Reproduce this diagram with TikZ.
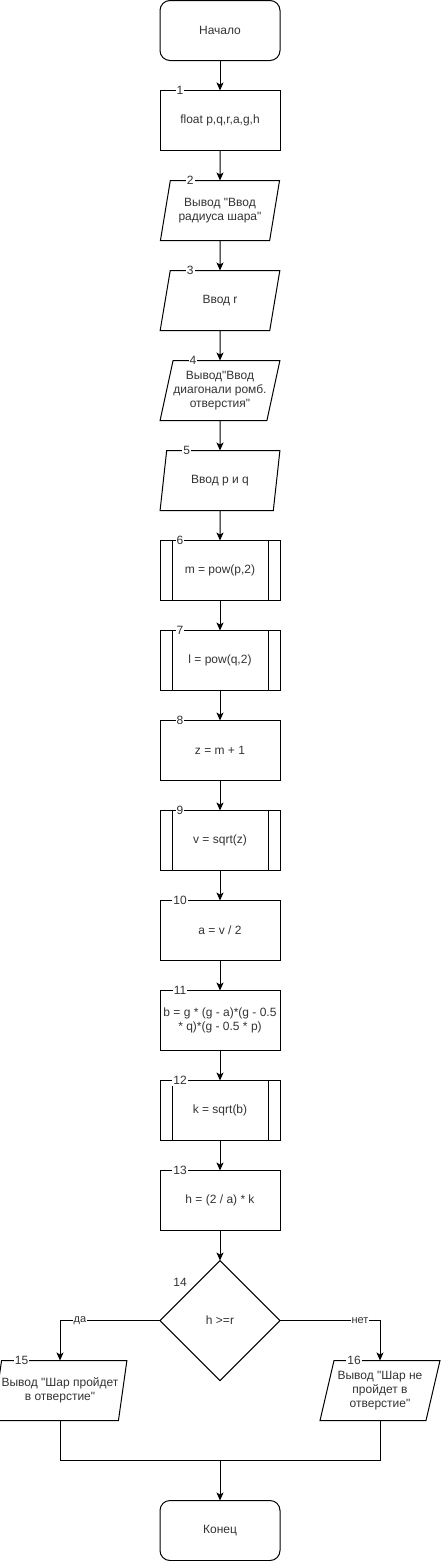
\documentclass[tikz,border=0pt]{standalone}
\usepackage{fontspec}
\setmainfont{Liberation Sans}[Ligatures=TeXOff]
\usetikzlibrary{shapes.geometric,arrows.meta,positioning}

\begin{document}
\begin{tikzpicture}[x=1pt,y=-1pt]
        \tikzset{every node/.style={font=\fontsize{12}{14}\selectfont,text=black!80},
          base/.style={draw=black,line width=1pt,minimum width=120pt,minimum height=60pt,
            inner sep=0pt,outer sep=0pt,align=center},
          term/.style={base,rectangle,rounded corners=10pt},
          proc/.style={base,rectangle},
          io/.style={base,trapezium,trapezium left angle=71.57,trapezium right angle=108.43,
            trapezium stretches=true},
          sub/.style={proc,path picture={
              \draw[line width=1pt]
                ([xshift=12pt]path picture bounding box.north west) -- ([xshift=12pt]path picture bounding box.south west)
                ([xshift=-12pt]path picture bounding box.north east) -- ([xshift=-12pt]path picture bounding box.south east);}},
          cond/.style={base,diamond,minimum width=120pt,minimum height=120pt,aspect=1},
          num/.style={fill=white,inner sep=1pt},
          lbl/.style={fill=white,inner sep=1pt,font=\fontsize{11}{13}\selectfont},
          line/.style={draw=black,line width=1pt},
          arr/.style={line,-{Stealth[length=8pt,width=7pt,inset=2pt]}},
          node distance=30pt}
        \useasboundingbox (0,-0.5) rectangle (441,1560.5);
        % main column
        \node[term] (start) at (220,30) {Начало};
        \node[proc,below=of start] (b1) {float p,q,r,a,g,h};
        \node[io,below=of b1] (b2) {Вывод "Ввод\\радиуса шара"};
        \node[io,below=of b2] (b3) {Ввод r};
        \node[io,below=of b3] (b4) {Вывод"Ввод\\диагонали ромб.\\отверстия"};
        \node[io,below=of b4] (b5) {Ввод p и q};
        \node[sub,below=of b5] (b6) {m = pow(p,2)};
        \node[sub,below=of b6] (b7) {l = pow(q,2)};
        \node[proc,below=of b7] (b8) {z = m + 1};
        \node[sub,below=of b8] (b9) {v = sqrt(z)};
        \node[proc,below=of b9] (b10) {a = v / 2};
        \node[proc,below=of b10] (b11) {b = g * (g - a)*(g - 0.5\\* q)*(g - 0.5 * p)};
        \node[sub,below=of b11] (b12) {k = sqrt(b)};
        \node[proc,below=of b12] (b13) {h = (2 / a) * k};
        \node[cond,below=of b13] (d14) {h >=r};
        % branches
        \node[io] (p15) at (60,1390) {Вывод "Шар пройдет\\в отверстие"};
        \node[io] (p16) at (380,1390) {Вывод "Шар не\\пройдет в\\отверстие"};
        \coordinate (m) at (220,1460);
        \node[term] (end) at (220,1530) {Конец};
        % numbers
        \node[num] (n1) at ([xshift=20pt]b1.north west) {1};
        \node[num] (n2) at ([xshift=20pt]b2.top left corner) {2};
        \node[num] (n3) at ([xshift=20pt]b3.top left corner) {3};
        \node[num] (n4) at ([xshift=20pt]b4.top left corner) {4};
        \node[num] (n5) at ([xshift=20pt]b5.top left corner) {5};
        \node[num] (n6) at ([xshift=20pt]b6.north west) {6};
        \node[num] (n7) at ([xshift=20pt]b7.north west) {7};
        \node[num] (n8) at ([xshift=20pt]b8.north west) {8};
        \node[num] (n9) at ([xshift=20pt]b9.north west) {9};
        \node[num] (n10) at ([xshift=20pt]b10.north west) {10};
        \node[num] (n11) at ([xshift=20pt]b11.north west) {11};
        \node[num] (n12) at ([xshift=20pt]b12.north west) {12};
        \node[num] (n13) at ([xshift=20pt]b13.north west) {13};
        \node[inner sep=1pt] (n14) at ([xshift=-10pt,yshift=8pt]d14.north west) {14};
        \node[num] (n15) at ([xshift=20pt]p15.top left corner) {15};
        \node[num] (n16) at ([xshift=20pt]p16.top left corner) {16};
        % connectors
        \foreach \a/\b in {start/b1,b1/b2,b2/b3,b3/b4,b4/b5,b5/b6,b6/b7,b7/b8,
            b8/b9,b9/b10,b10/b11,b11/b12,b12/b13,b13/d14}
          \draw[arr] (\a) -- (\b);
        \draw[arr] (d14.west) -| node[lbl,pos=0.4] (yes) {да} (p15);
        \draw[arr] (d14.east) -| node[lbl,pos=0.4] (no) {нет} (p16);
        \draw[line] (p15) |- (m);
        \draw[line] (p16) |- (m);
        \draw[arr] (m) -- (end);
      \end{tikzpicture}
\end{document}
